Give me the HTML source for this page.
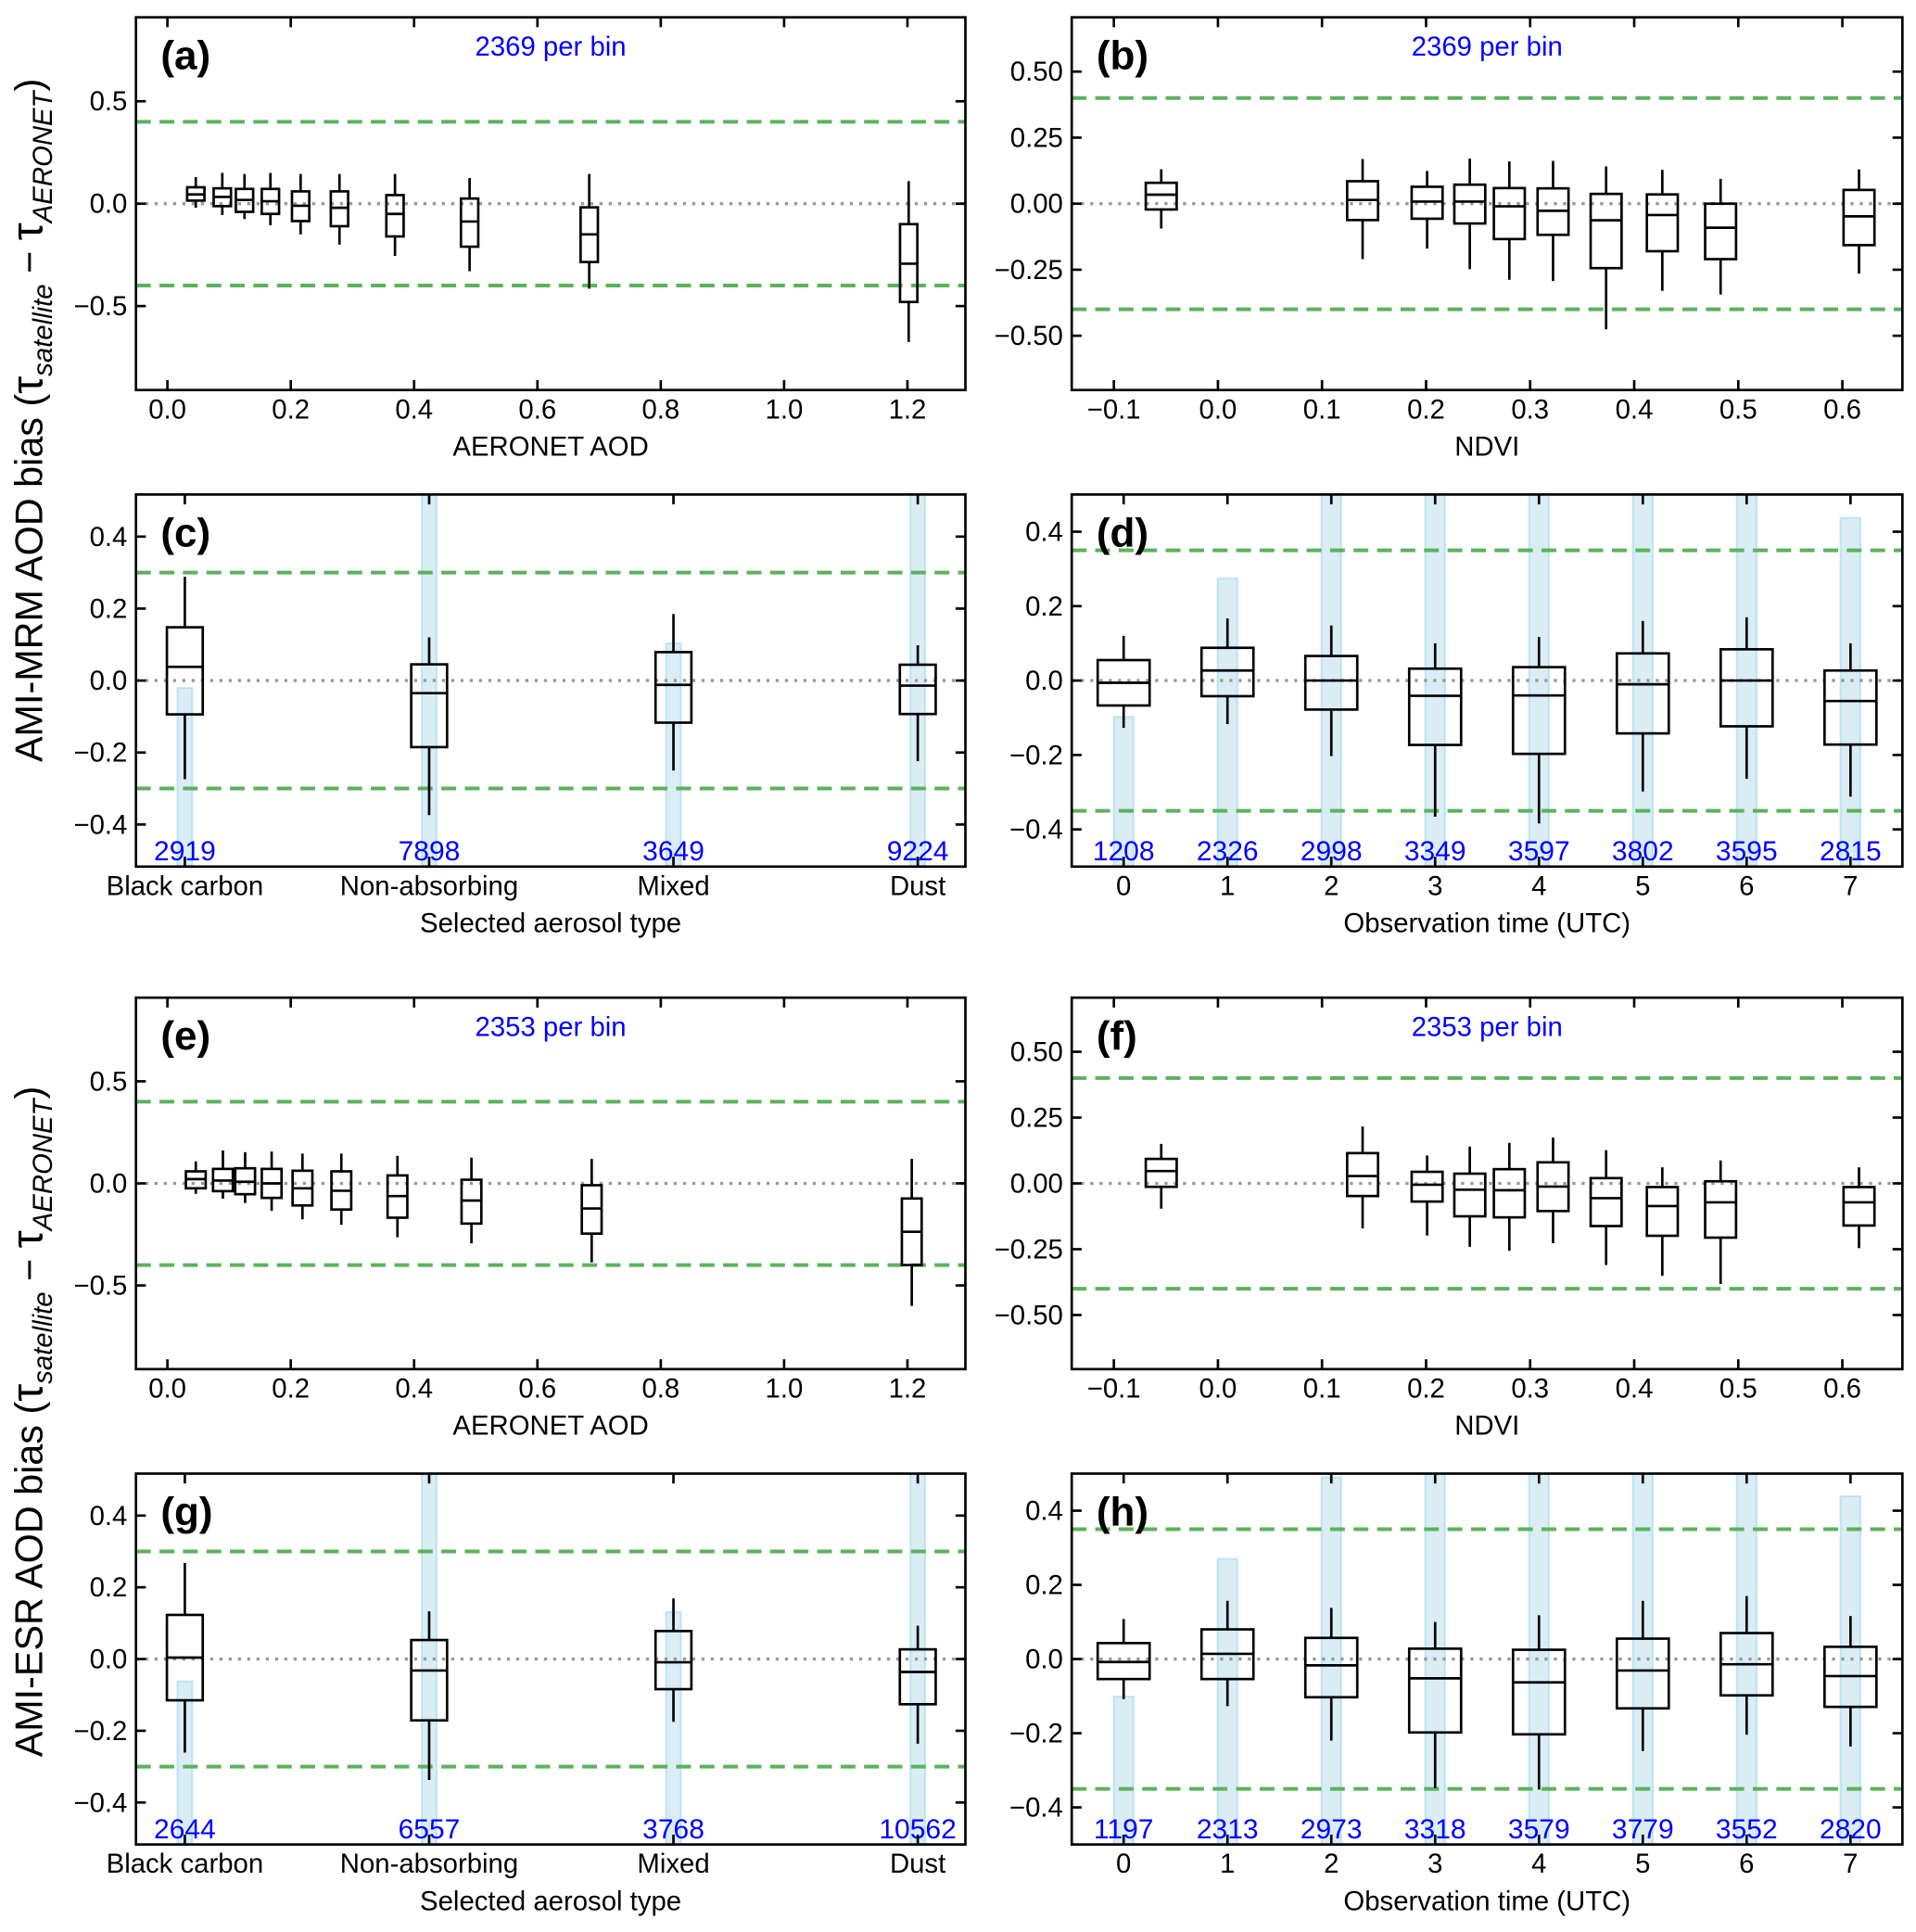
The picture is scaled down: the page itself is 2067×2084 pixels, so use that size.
<!DOCTYPE html>
<html><head><meta charset="utf-8">
<style>
html,body{margin:0;padding:0;background:#fff;}
svg{display:block;}
text{font-family:"Liberation Sans","DejaVu Sans",sans-serif;}
</style></head>
<body>
<svg id="fig" width="2067" height="2084" viewBox="0 0 1550 1562.8" preserveAspectRatio="none" xmlns="http://www.w3.org/2000/svg"></svg>
<script>
const aodBinsA = [0.046,0.089,0.125,0.167,0.216,0.279,0.369,0.49,0.684,1.202];
const aWlo=[-0.02,-0.055,-0.075,-0.105,-0.15,-0.2,-0.255,-0.33,-0.415,-0.675];
const aQ1=[0.015,-0.012,-0.04,-0.05,-0.085,-0.11,-0.16,-0.21,-0.285,-0.48];
const aMed=[0.045,0.033,0.018,0.012,-0.01,-0.02,-0.05,-0.087,-0.15,-0.293];
const aQ3=[0.08,0.075,0.072,0.072,0.06,0.06,0.042,0.025,-0.018,-0.1];
const aWhi=[0.13,0.15,0.145,0.15,0.145,0.145,0.145,0.125,0.145,0.11];

const ndviBinsB=[-0.0545,0.139,0.201,0.242,0.28,0.322,0.373,0.427,0.483,0.616];
const bWlo=[-0.094,-0.21,-0.17,-0.248,-0.288,-0.293,-0.476,-0.33,-0.344,-0.265];
const bQ1=[-0.022,-0.062,-0.057,-0.075,-0.134,-0.118,-0.244,-0.18,-0.21,-0.157];
const bMed=[0.034,0.014,0.008,0.008,-0.01,-0.027,-0.063,-0.043,-0.091,-0.048];
const bQ3=[0.079,0.085,0.064,0.072,0.059,0.058,0.037,0.035,0,0.052];
const bWhi=[0.13,0.169,0.124,0.171,0.16,0.162,0.141,0.128,0.094,0.13];

const aerosolTypes=["Black carbon","Non-absorbing","Mixed","Dust"];
const cCounts=[2919,7898,3649,9224];
const cWlo=[-0.274,-0.374,-0.25,-0.224];
const cQ1=[-0.094,-0.185,-0.117,-0.093];
const cMed=[0.038,-0.035,-0.012,-0.014];
const cQ3=[0.148,0.045,0.079,0.044];
const cWhi=[0.288,0.12,0.185,0.098];

const hours=[0,1,2,3,4,5,6,7];
const dCounts=[1208,2326,2998,3349,3597,3802,3595,2815];
const dWlo=[-0.127,-0.117,-0.203,-0.366,-0.384,-0.298,-0.264,-0.312];
const dQ1=[-0.067,-0.042,-0.078,-0.173,-0.197,-0.142,-0.123,-0.172];
const dMed=[-0.006,0.027,0,-0.041,-0.04,-0.01,0,-0.055];
const dQ3=[0.055,0.088,0.066,0.032,0.036,0.073,0.084,0.027];
const dWhi=[0.12,0.167,0.148,0.1,0.117,0.16,0.17,0.1];

const aodBinsE=[0.046,0.09,0.126,0.169,0.219,0.282,0.373,0.493,0.688,1.207];
const eWlo=[-0.051,-0.075,-0.096,-0.135,-0.176,-0.203,-0.264,-0.294,-0.387,-0.6];
const eQ1=[-0.024,-0.038,-0.053,-0.071,-0.108,-0.128,-0.168,-0.197,-0.246,-0.4];
const eMed=[0.021,0.014,0.008,0,-0.024,-0.036,-0.062,-0.084,-0.123,-0.237];
const eQ3=[0.059,0.071,0.074,0.071,0.062,0.059,0.039,0.018,-0.009,-0.074];
const eWhi=[0.108,0.161,0.153,0.156,0.146,0.146,0.135,0.126,0.12,0.12];

const ndviBinsF=[-0.0545,0.139,0.201,0.242,0.28,0.322,0.373,0.427,0.483,0.616];
const fWlo=[-0.096,-0.171,-0.198,-0.241,-0.256,-0.227,-0.31,-0.351,-0.382,-0.246];
const fQ1=[-0.013,-0.048,-0.069,-0.125,-0.129,-0.105,-0.162,-0.199,-0.206,-0.16];
const fMed=[0.047,0.028,-0.005,-0.024,-0.026,-0.012,-0.056,-0.086,-0.072,-0.072];
const fQ3=[0.093,0.115,0.044,0.037,0.054,0.08,0.02,-0.014,0.008,-0.014];
const fWhi=[0.15,0.216,0.106,0.14,0.154,0.174,0.126,0.061,0.087,0.061];

const gCounts=[2644,6557,3768,10562];
const gWlo=[-0.261,-0.337,-0.175,-0.236];
const gQ1=[-0.115,-0.171,-0.084,-0.126];
const gMed=[0.004,-0.032,-0.009,-0.036];
const gQ3=[0.123,0.053,0.078,0.027];
const gWhi=[0.268,0.133,0.169,0.093];

const hCounts=[1197,2313,2973,3318,3579,3779,3552,2820];
const hWlo=[-0.108,-0.127,-0.22,-0.348,-0.352,-0.248,-0.204,-0.236];
const hQ1=[-0.054,-0.054,-0.103,-0.198,-0.203,-0.133,-0.098,-0.129];
const hMed=[-0.008,0.014,-0.017,-0.052,-0.063,-0.031,-0.014,-0.046];
const hQ3=[0.043,0.08,0.057,0.028,0.025,0.055,0.07,0.033];
const hWhi=[0.108,0.157,0.138,0.1,0.118,0.157,0.17,0.116];

const aodTicks=[0,0.2,0.4,0.6,0.8,1.0,1.2];
const aodTickLabels=["0.0","0.2","0.4","0.6","0.8","1.0","1.2"];
const ndviTicks=[-0.1,0,0.1,0.2,0.3,0.4,0.5,0.6];
const ndviTickLabels=["\u22120.1","0.0","0.1","0.2","0.3","0.4","0.5","0.6"];
const yTicksA=[-0.5,0,0.5];
const yTickLabelsA=["\u22120.5","0.0","0.5"];
const yTicksB=[-0.5,-0.25,0,0.25,0.5];
const yTickLabelsB=["\u22120.50","\u22120.25","0.00","0.25","0.50"];
const yTicksC=[-0.4,-0.2,0,0.2,0.4];
const yTickLabelsC=["\u22120.4","\u22120.2","0.0","0.2","0.4"];

const NS="http://www.w3.org/2000/svg";
const svg=document.getElementById('fig');
function mk(tag,attrs,parent){const e=document.createElementNS(NS,tag);for(const k in attrs)e.setAttribute(k,attrs[k]);(parent||svg).appendChild(e);return e;}

const L={x0:110,x1:781}, R={x0:867,x1:1539};
const rows=[[14,315.5],[400,701],[807,1107.5],[1192,1492]];
const FS=22;

const panels=[
 {id:'a',col:L,row:rows[0],xlim:[-0.051,1.294],ylim:[-0.91,0.91],xt:aodTicks,xtl:aodTickLabels,yt:yTicksA,ytl:yTickLabelsA,g:0.4,xs:aodBinsA,wlo:aWlo,q1:aQ1,med:aMed,q3:aQ3,whi:aWhi,bw:14,title:"AERONET AOD",note:"2369 per bin"},
 {id:'b',col:R,row:rows[0],xlim:[-0.1405,0.6577],ylim:[-0.7056,0.7056],xt:ndviTicks,xtl:ndviTickLabels,yt:yTicksB,ytl:yTickLabelsB,g:0.4,xs:ndviBinsB,wlo:bWlo,q1:bQ1,med:bMed,q3:bQ3,whi:bWhi,bw:25,title:"NDVI",note:"2369 per bin"},
 {id:'c',col:L,row:rows[1],xlim:[-0.2,3.195],ylim:[-0.517,0.517],cats:aerosolTypes,yt:yTicksC,ytl:yTickLabelsC,g:0.3,xs:[0,1,2,3],wlo:cWlo,q1:cQ1,med:cMed,q3:cQ3,whi:cWhi,bw:29,counts:cCounts,k:0.000170,barW:12,title:"Selected aerosol type"},
 {id:'d',col:R,row:rows[1],xlim:[-0.5,7.5],ylim:[-0.5,0.5],cats:hours.map(String),yt:yTicksC,ytl:yTickLabelsC,g:0.35,xs:hours,wlo:dWlo,q1:dQ1,med:dMed,q3:dQ3,whi:dWhi,bw:42,counts:dCounts,k:0.000333,barW:16,title:"Observation time (UTC)"},
 {id:'e',col:L,row:rows[2],xlim:[-0.051,1.294],ylim:[-0.91,0.91],xt:aodTicks,xtl:aodTickLabels,yt:yTicksA,ytl:yTickLabelsA,g:0.4,xs:aodBinsE,wlo:eWlo,q1:eQ1,med:eMed,q3:eQ3,whi:eWhi,bw:16,title:"AERONET AOD",note:"2353 per bin"},
 {id:'f',col:R,row:rows[2],xlim:[-0.1405,0.6577],ylim:[-0.7056,0.7056],xt:ndviTicks,xtl:ndviTickLabels,yt:yTicksB,ytl:yTickLabelsB,g:0.4,xs:ndviBinsF,wlo:fWlo,q1:fQ1,med:fMed,q3:fQ3,whi:fWhi,bw:25,title:"NDVI",note:"2353 per bin"},
 {id:'g',col:L,row:rows[3],xlim:[-0.2,3.195],ylim:[-0.517,0.517],cats:aerosolTypes,yt:yTicksC,ytl:yTickLabelsC,g:0.3,xs:[0,1,2,3],wlo:gWlo,q1:gQ1,med:gMed,q3:gQ3,whi:gWhi,bw:29,counts:gCounts,k:0.000172,barW:12,title:"Selected aerosol type"},
 {id:'h',col:R,row:rows[3],xlim:[-0.5,7.5],ylim:[-0.5,0.5],cats:hours.map(String),yt:yTicksC,ytl:yTickLabelsC,g:0.35,xs:hours,wlo:hWlo,q1:hQ1,med:hMed,q3:hQ3,whi:hWhi,bw:42,counts:hCounts,k:0.000333,barW:16,title:"Observation time (UTC)"}
];

panels.forEach(p=>{
  const x0=p.col.x0,x1=p.col.x1,y0=p.row[0],y1=p.row[1];
  const sx=v=>x0+(v-p.xlim[0])/(p.xlim[1]-p.xlim[0])*(x1-x0);
  const sy=v=>y1-(v-p.ylim[0])/(p.ylim[1]-p.ylim[0])*(y1-y0);
  const grp=mk('g',{});
  
  
  const cid='clip-'+p.id;
  const cp=mk('clipPath',{id:cid},grp); mk('rect',{x:x0,y:y0,width:x1-x0,height:y1-y0},cp);
  const plot=mk('g',{'clip-path':'url(#'+cid+')'},grp);
  if(p.counts){
    p.counts.forEach((c,i)=>{
      const top=sy(p.ylim[0]+c*p.k);
      const r=mk('rect',{x:sx(p.xs[i])-p.barW/2,y:top,width:p.barW,height:y1-top,fill:'rgba(173,216,230,0.45)',stroke:'rgba(135,206,235,0.45)','stroke-width':1.5},plot);
      
      
    });
  }
  const z=mk('line',{x1:x0,x2:x1,y1:sy(0),y2:sy(0),stroke:'#999','stroke-width':2.5,'stroke-dasharray':'2.5,5'},plot);
  
  
  [p.g,-p.g].forEach((gv,j)=>{
    const l=mk('line',{x1:x0,x2:x1,y1:sy(gv),y2:sy(gv),stroke:'#5cb25c','stroke-width':3,'stroke-dasharray':'12,7'},plot);
    
    
  });
  p.xs.forEach((xv,i)=>{
    const cx=sx(xv),h=p.bw/2;
    const b=mk('g',{stroke:'#000','stroke-width':2,fill:'none'},plot);
    
    
    mk('line',{x1:cx,x2:cx,y1:sy(p.whi[i]),y2:sy(p.q3[i])},b);
    mk('line',{x1:cx,x2:cx,y1:sy(p.q1[i]),y2:sy(p.wlo[i])},b);
    mk('rect',{x:cx-h,y:sy(p.q3[i]),width:p.bw,height:sy(p.q1[i])-sy(p.q3[i])},b);
    mk('line',{x1:cx-h,x2:cx+h,y1:sy(p.med[i]),y2:sy(p.med[i])},b);
  });
  if(p.counts){
    p.counts.forEach((c,i)=>{
      const t=mk('text',{x:sx(p.xs[i]),y:y1-5,'font-size':22.5,'text-anchor':'middle',fill:'#0000ff'},grp);
      t.textContent=c;
      
      
    });
  }
  const fr=mk('rect',{x:x0,y:y0,width:x1-x0,height:y1-y0,fill:'none',stroke:'#000','stroke-width':2},grp);
  
  
  const xt=p.cats? p.xs : p.xt;
  const xtl=p.cats? p.cats : p.xtl;
  xt.forEach((v,i)=>{
    const X=sx(v);
    mk('line',{x1:X,x2:X,y1:y1,y2:y1-8,stroke:'#000','stroke-width':2},grp);
    mk('line',{x1:X,x2:X,y1:y0,y2:y0+8,stroke:'#000','stroke-width':2},grp);
    const t=mk('text',{x:X,y:y1+23,'font-size':FS,'text-anchor':'middle',fill:'#000'},grp);
    t.textContent=xtl[i];
    
    
  });
  p.yt.forEach((v,i)=>{
    const Y=sy(v);
    mk('line',{x1:x0,x2:x0+8,y1:Y,y2:Y,stroke:'#000','stroke-width':2},grp);
    mk('line',{x1:x1,x2:x1-8,y1:Y,y2:Y,stroke:'#000','stroke-width':2},grp);
    const t=mk('text',{x:x0-7,y:Y+7.5,'font-size':FS,'text-anchor':'end',fill:'#000'},grp);
    t.textContent=p.ytl[i];
    
    
  });
  const tt=mk('text',{x:(x0+x1)/2,y:y1+53,'font-size':22,'text-anchor':'middle',fill:'#000'},grp);
  tt.textContent=p.title;
  
  
  const pl=mk('text',{x:x0+20,y:y0+42,'font-size':33,'font-weight':'bold',fill:'#000'},grp);
  pl.textContent='('+p.id+')';
  
  
  if(p.note){
    const n=mk('text',{x:(x0+x1)/2,y:y0+31,'font-size':22,'text-anchor':'middle',fill:'#0000ff'},grp);
    n.textContent=p.note;
    
    
  }
});

[["AMI-MRM AOD bias (",340],["AMI-ESR AOD bias (",1150]].forEach((d,i)=>{
  const t=mk('text',{x:0,y:0,'font-size':31,'text-anchor':'middle',fill:'#000',transform:'translate(34,'+d[1]+') rotate(-90)'});
  
  
  const a=mk('tspan',{},t); a.textContent=d[0];
  const b=mk('tspan',{'font-size':36},t); b.textContent='\u03c4';
  const c=mk('tspan',{'font-size':22,'font-style':'italic',dy:8},t); c.textContent='satellite';
  const e=mk('tspan',{dy:-8},t); e.textContent=' \u2212 ';
  const f=mk('tspan',{'font-size':36},t); f.textContent='\u03c4';
  const g=mk('tspan',{'font-size':22,'font-style':'italic',dy:8},t); g.textContent='AERONET';
  const h=mk('tspan',{dy:-8},t); h.textContent=')';
});
</script>
</body></html>
